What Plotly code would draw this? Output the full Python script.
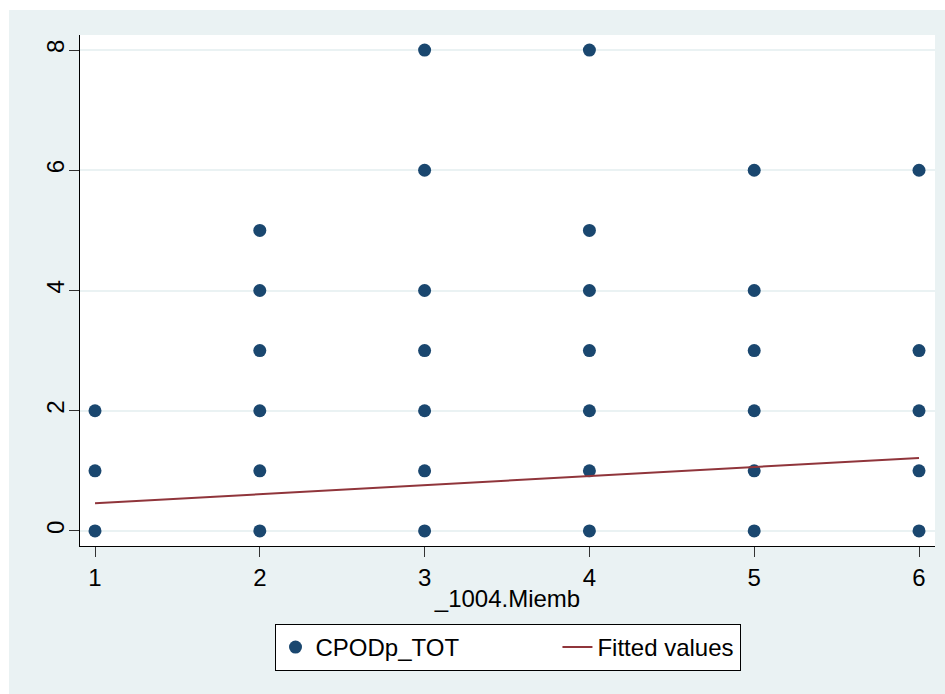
import plotly.graph_objects as go

# Observed (unique) points: _1004.Miemb vs CPODp_TOT
miemb = [1, 1, 1,
         2, 2, 2, 2, 2, 2,
         3, 3, 3, 3, 3, 3, 3,
         4, 4, 4, 4, 4, 4, 4,
         5, 5, 5, 5, 5, 5,
         6, 6, 6, 6, 6]
cpod = [0, 1, 2,
        0, 1, 2, 3, 4, 5,
        0, 1, 2, 3, 4, 6, 8,
        0, 1, 2, 3, 4, 5, 8,
        0, 1, 2, 3, 4, 6,
        0, 1, 2, 3, 6]

# Fitted values (linear fit)
fit_x = [1, 2, 3, 4, 5, 6]
fit_y = [0.46, 0.61, 0.76, 0.91, 1.06, 1.215]

x_ticks = [1, 2, 3, 4, 5, 6]
y_ticks = [0, 2, 4, 6, 8]

BG = "#EAF2F3"
NAVY = "#1A476F"
MAROON = "#90353B"
FONT = "Liberation Sans, Arial, sans-serif"
FS = 24
NBSP = "\u00a0"

fig = go.Figure()
fig.add_trace(go.Scatter(
    x=miemb, y=cpod, mode="markers", name="CPODp_TOT" + NBSP * 14,
    marker=dict(color=NAVY, size=13, line=dict(width=0)),
))
fig.add_trace(go.Scatter(
    x=fit_x, y=fit_y, mode="lines", name="Fitted values",
    line=dict(color=MAROON, width=2),
))

L, R, T, B = 80, 10, 35, 148
W, H = 945, 694
pw, ph = W - L - R, H - T - B

def px_x(p):
    return (p - L) / pw

def px_y(p):
    return (H - B - p) / ph

fig.update_layout(
    width=W, height=H,
    margin=dict(l=L, r=R, t=T, b=B, pad=0),
    paper_bgcolor=BG,
    plot_bgcolor="white",
    font=dict(family=FONT, size=FS, color="black"),
    showlegend=True,
    legend=dict(
        orientation="h",
        x=0.5, xanchor="center",
        y=px_y(624), yanchor="top",
        bgcolor="white",
        bordercolor="black", borderwidth=1,
        font=dict(size=FS, family=FONT),
        traceorder="normal",
    ),
    shapes=[
        dict(type="rect", xref="paper", yref="paper",
             x0=px_x(0), x1=px_x(9), y0=px_y(H), y1=px_y(0),
             fillcolor="white", line=dict(width=0), layer="below"),
        dict(type="rect", xref="paper", yref="paper",
             x0=px_x(0), x1=px_x(W), y0=px_y(10), y1=px_y(0),
             fillcolor="white", line=dict(width=0), layer="below"),
    ],
)

fig.update_xaxes(
    range=[0.909, 6.097],
    tickvals=x_ticks, ticktext=[str(v) for v in x_ticks],
    ticks="outside", ticklen=10, tickwidth=1, tickcolor="#333333",
    showline=True, linecolor="black", linewidth=1,
    showgrid=False, zeroline=False,
    tickfont=dict(size=FS),
    title=dict(text="_1004.Miemb", font=dict(size=FS), standoff=0),
)
fig.update_yaxes(
    range=[-0.25, 8.25],
    tickvals=y_ticks, ticktext=[str(v) for v in y_ticks],
    ticks="outside", ticklen=10, tickwidth=1, tickcolor="#333333",
    tickangle=-90, ticklabelstandoff=-5,
    showline=True, linecolor="black", linewidth=1,
    showgrid=True, gridcolor=BG, gridwidth=2,
    zeroline=False,
    tickfont=dict(size=FS),
)

fig.write_html("out.html")
